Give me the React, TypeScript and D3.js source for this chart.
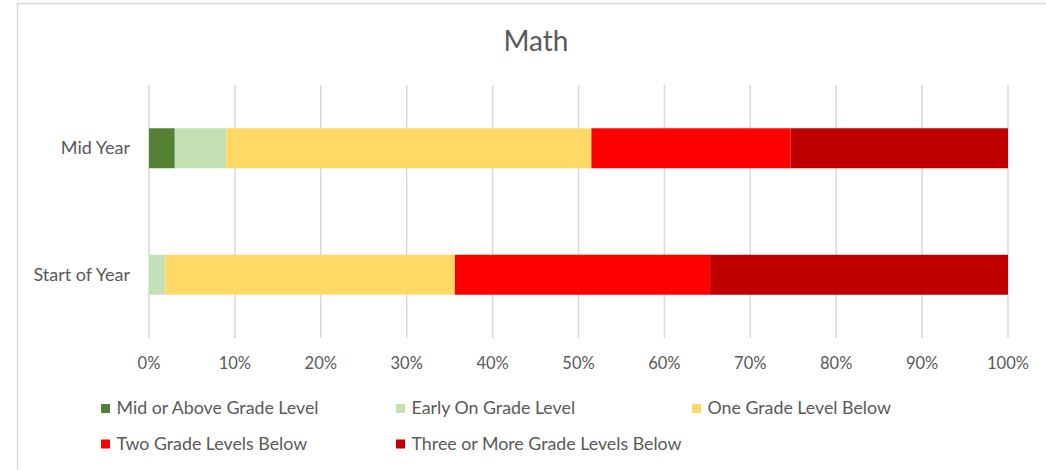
import React from "react";
import * as d3 from "d3";

const categories = ["Mid Year", "Start of Year"];
const seriesNames = [
  "Mid or Above Grade Level",
  "Early On Grade Level",
  "One Grade Level Below",
  "Two Grade Levels Below",
  "Three or More Grade Levels Below",
];
const seriesColors = ["#548235", "#c5e0b4", "#ffd966", "#ff0000", "#c00000"];
const midYear = [3.0, 6.0, 42.5, 23.2, 25.3];
const startOfYear = [0, 1.9, 33.7, 29.7, 34.7];
const xTicks = [0, 0.1, 0.2, 0.3, 0.4, 0.5, 0.6, 0.7, 0.8, 0.9, 1.0];

const W = 1046;
const H = 470;
const FONT = "Lato, 'Open Sans', sans-serif";
const TXT = "#595959";

export default function App() {
  const values = [midYear, startOfYear];
  const x = d3.scaleLinear().domain([0, 1]).range([149, 1008]);
  const y = d3.scaleBand().domain(categories).range([85, 338]).paddingInner(0.684).paddingOuter(0.342);
  const stacks = values.map((vals) => {
    const total = d3.sum(vals);
    let acc = 0;
    return vals.map((v, i) => {
      const s = acc / total;
      acc += v;
      return { i, x0: s, x1: acc / total };
    });
  });
  const legendCols = [101, 396, 692];
  const legendRows = [404, 439.5];
  return (
    <div style={{ position: "absolute", left: 0, top: 0 }}>
      <svg width={W} height={H} style={{ display: "block", background: "#fff" }}>
        <rect x={17.5} y={3.5} width={1040} height={480} fill="#fff" stroke="#d9d9d9" strokeWidth={1.5} />
        <text x={536} y={51} textAnchor="middle" fontFamily={FONT} fontSize={28} fill={TXT}>
          Math
        </text>
        {xTicks.map((t) => (
          <line key={t} x1={x(t)} x2={x(t)} y1={85} y2={338} stroke="#d9d9d9" strokeWidth={1.5} />
        ))}
        {xTicks.map((t) => (
          <text key={"l" + t} x={x(t)} y={369} textAnchor="middle" fontFamily={FONT} fontSize={16.5} fill={TXT}>
            {d3.format(".0%")(t)}
          </text>
        ))}
        {categories.map((c, ci) => (
          <g key={c}>
            {stacks[ci].map((s) =>
              s.x1 > s.x0 ? (
                <rect
                  key={s.i}
                  x={x(s.x0)}
                  width={x(s.x1) - x(s.x0)}
                  y={y(c)!}
                  height={y.bandwidth()}
                  fill={seriesColors[s.i]}
                />
              ) : null
            )}
            <text
              x={130}
              y={y(c)! + y.bandwidth() / 2 + 6}
              textAnchor="end"
              fontFamily={FONT}
              fontSize={18}
              fill={TXT}
            >
              {c}
            </text>
          </g>
        ))}
        {seriesNames.map((n, i) => {
          const col = i < 3 ? i : i - 3;
          const row = i < 3 ? 0 : 1;
          const lx = legendCols[col];
          const ly = legendRows[row];
          return (
            <g key={n}>
              <rect x={lx} y={ly} width={9} height={9} fill={seriesColors[i]} />
              <text x={lx + 15.5} y={ly + 10} fontFamily={FONT} fontSize={17.8} fill={TXT}>
                {n}
              </text>
            </g>
          );
        })}
      </svg>
    </div>
  );
}
